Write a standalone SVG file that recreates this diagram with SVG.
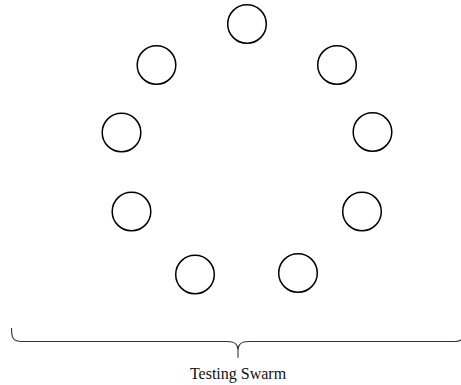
<svg xmlns="http://www.w3.org/2000/svg" width="461" height="385" viewBox="0 0 461 385">
  <style>
    .node circle { fill: #ffffff; stroke: #000000; stroke-width: 1.5; }
    .brace { fill: none; stroke: #333333; stroke-width: 1.1; }
    .label { font-family: "Liberation Serif", "Times New Roman", serif; font-size: 16px; fill: #111111; text-anchor: middle; }
  </style>
  <rect width="461" height="385" fill="#ffffff"/>
  <!-- swarm members arranged in a ring -->
  <g id="node-1" class="node"><circle cx="247" cy="24" r="19.3"/></g>
  <g id="node-2" class="node"><circle cx="337" cy="65" r="19.3"/></g>
  <g id="node-3" class="node"><circle cx="372.5" cy="132" r="19.3"/></g>
  <g id="node-4" class="node"><circle cx="362" cy="211.5" r="19.3"/></g>
  <g id="node-5" class="node"><circle cx="298" cy="273" r="19.3"/></g>
  <g id="node-6" class="node"><circle cx="195" cy="274.5" r="19.3"/></g>
  <g id="node-7" class="node"><circle cx="131.5" cy="211.5" r="19.3"/></g>
  <g id="node-8" class="node"><circle cx="121.5" cy="132.5" r="19.3"/></g>
  <g id="node-9" class="node"><circle cx="156.5" cy="65" r="19.3"/></g>
  <!-- curly brace grouping the swarm -->
  <g id="connectors">
    <path class="brace" d="M11.5,328 C11.5,338 13,341.5 22,341.5 L227,341.5 C235,341.5 238,344 238,350 L238,357.7 M238,350 C238,344 241,341.5 249,341.5 L455,341.5 C462,341.5 464,339 464,328"/>
  </g>
  <g id="label">
    <text class="label" x="238" y="379">Testing Swarm</text>
  </g>
</svg>
